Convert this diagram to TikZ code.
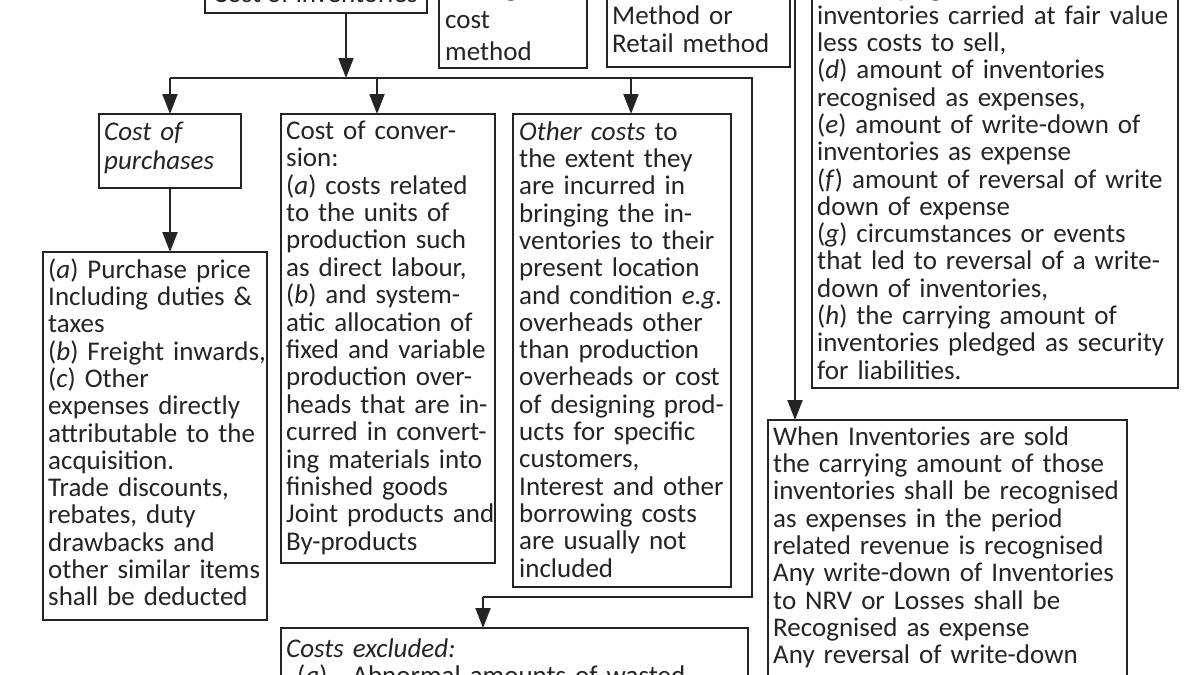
\documentclass[tikz,border=0pt]{standalone}
\usepackage{fontspec}
\setmainfont{Carlito}
\usetikzlibrary{arrows.meta}
\definecolor{ink}{RGB}{36,36,36}
\newcommand{\fstrut}{\rule{0pt}{24pt}}
\newcommand{\fsz}[1]{\fontsize{27}{#1}\selectfont\lineskiplimit=-50pt\relax}
\begin{document}
\begin{tikzpicture}[x=1pt,y=-1pt,
  boxst/.style={draw=ink, line width=1.9pt, inner sep=0pt, outer sep=0pt, anchor=north west},
  txt/.style={anchor=north west, inner sep=0pt, align=left, text width=450pt, text=ink, font=\fsz{27.4}},
  txtone/.style={anchor=base west, inner sep=0pt, text=ink, font=\fsz{27.4}},
  arr/.style={draw=ink, line width=1.9pt, -{Triangle[length=20pt,width=15pt]}},
  ln/.style={draw=ink, line width=1.9pt}]
\useasboundingbox (0,0) rectangle (1200,675);
\fill[white] (0,0) rectangle (1200,675);
\clip (0,0) rectangle (1200,675);

% boxes
\node[boxst, minimum width=222pt, minimum height=53pt] (inv) at (205,-40) {};
\node[boxst, minimum width=148pt, minimum height=158pt] (wac) at (439,-90) {};
\node[boxst, minimum width=183pt, minimum height=157pt] (std) at (607,-90) {};
\node[boxst, minimum width=366pt, minimum height=478pt] (rtop) at (812,-90) {};
\node[boxst, minimum width=142pt, minimum height=74pt] (cp) at (99,114) {};
\node[boxst, minimum width=224pt, minimum height=368pt] (pp) at (43,252) {};
\node[boxst, minimum width=214pt, minimum height=449pt] (cc) at (281,114) {};
\node[boxst, minimum width=218pt, minimum height=473pt] (oc) at (513,114) {};
\node[boxst, minimum width=467pt, minimum height=120pt] (ce) at (281,628) {};
\node[boxst, minimum width=359pt, minimum height=300pt] (wi) at (768,420) {};

% texts
\node[txtone] (invt) at (213,2) {Cost of inventories};
\node[txt, font=\fsz{32}] (wact) at (445,-28) {\fstrut average\\cost\\method};
\node[txt, font=\fsz{28}] (stdt) at (612,0) {\fstrut Method or\\Retail method};
\node[txt, font=\fsz{27.3}] (rtopt) at (817,-27.3) {\fstrut (\textit{c}) carrying amount of\\
inventories carried at fair value\\
less costs to sell,\\
(\textit{d}) amount of inventories\\
recognised as expenses,\\
(\textit{e}) amount of write-down of\\
inventories as expense\\
(\textit{f}) amount of reversal of write\\
down of expense\\
(\textit{g}) circumstances or events\\
that led to reversal of a write-\\
down of inventories,\\
(\textit{h}) the carrying amount of\\
inventories pledged as security\\
for liabilities.};
\node[txt, font=\fsz{29}] (cpt) at (104,116) {\fstrut\textit{Cost of}\\\textit{purchases}};
\node[txt, font=\fsz{27.3}] (ppt) at (48,254) {\fstrut (\textit{a}) Purchase price\\
Including duties \&\\
taxes\\
(\textit{b}) Freight inwards,\\
(\textit{c}) Other\\
expenses directly\\
attributable to the\\
acquisition.\\
Trade discounts,\\
rebates, duty\\
drawbacks and\\
other similar items\\
shall be deducted};
\node[txt, font=\fsz{27.4}] (cct) at (286,115) {\fstrut Cost of conver-\\
sion:\\
(\textit{a}) costs related\\
to the units of\\
production such\\
as direct labour,\\
(\textit{b}) and system-\\
atic allocation of\\
fixed and variable\\
production over-\\
heads that are in-\\
curred in convert-\\
ing materials into\\
finished goods\\
Joint products and\\
By-products};
\node[txt, font=\fsz{27.3}] (oct) at (519,116) {\fstrut\textit{Other costs} to\\
the extent they\\
are incurred in\\
bringing the in-\\
ventories to their\\
present location\\
and condition \textit{e.g.}\\
overheads other\\
than production\\
overheads or cost\\
of designing prod-\\
ucts for specific\\
customers,\\
Interest and other\\
borrowing costs\\
are usually not\\
included};
\node[txt, font=\fsz{27}] (cet) at (286,633) {\fstrut\textit{Costs excluded:}\\
\hspace*{11pt}(\textit{a})\hspace{25pt}Abnormal amounts of wasted};
\node[txt, font=\fsz{27.3}] (wit) at (773,421) {\fstrut When Inventories are sold\\
the carrying amount of those\\
inventories shall be recognised\\
as expenses in the period\\
related revenue is recognised\\
Any write-down of Inventories\\
to NRV or Losses shall be\\
Recognised as expense\\
Any reversal of write-down};

% connectors
\coordinate (j0) at (346,78);
\coordinate (jL) at (170,78);
\coordinate (jC) at (377,78);
\coordinate (jO) at (631,78);
\coordinate (jR) at (752,78);
\coordinate (jB) at (752,597);
\coordinate (jE) at (483,597);
\coordinate (jT) at (795,-10);
\draw[arr] (inv.south -| j0) -- (j0);
\draw[ln] (jL) -- (jR) -- (jB) -- (jE);
\draw[arr] (jL) -- (jL |- cp.north);
\draw[arr] (jC) -- (jC |- cc.north);
\draw[arr] (jO) -- (jO |- oc.north);
\draw[arr] (jE) -- (jE |- ce.north);
\draw[arr] (cp.south) -- (cp.south |- pp.north);
\draw[arr] (jT) -- (jT |- wi.north);
\end{tikzpicture}
\end{document}
